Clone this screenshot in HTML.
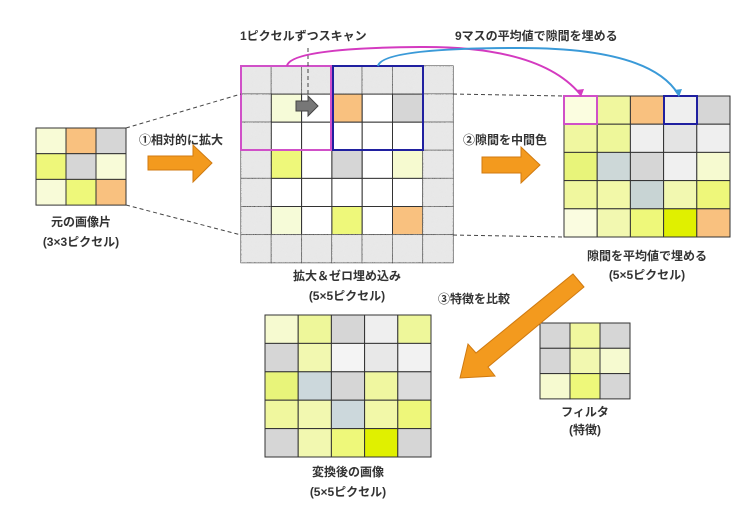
<!DOCTYPE html>
<html><head><meta charset="utf-8"><style>
body{margin:0;background:#fff;width:750px;height:519px;overflow:hidden}
svg text{font-family:"Liberation Sans","Noto Sans CJK JP",sans-serif;font-size:12px;font-weight:bold;fill:#333}
</style></head><body>
<svg id="s" width="750" height="519" xmlns="http://www.w3.org/2000/svg">
<defs>
<filter id="n" x="0" y="0" width="100%" height="100%"><feTurbulence baseFrequency="0.9" numOctaves="2" result="t"/><feColorMatrix type="matrix" values="0 0 0 0 0.8  0 0 0 0 0.8  0 0 0 0 0.8  0 0 0 -1.2 1.1"/><feComposite in2="SourceGraphic" operator="in"/></filter>
</defs>
<g id="g"></g>
<g stroke="#444" stroke-dasharray="4,3" fill="none" stroke-width="1">
<line x1="126" y1="128" x2="241" y2="94"/>
<line x1="126" y1="205" x2="241" y2="235"/>
<line x1="453" y1="94" x2="564" y2="96"/>
<line x1="453" y1="235" x2="564" y2="237"/>
<line x1="308" y1="48" x2="308" y2="102"/>
</g>
<path d="M287 66 Q290 48 420 47 Q540 46 580 94" stroke="#d43ac0" stroke-width="2" fill="none"/>
<polygon points="576,90 584,89 581,97" fill="#d43ac0"/>
<path d="M378 66 Q382 48 520 48 Q650 48 678 94" stroke="#3a9ad8" stroke-width="2" fill="none"/>
<polygon points="674,90 682,89 679,97" fill="#3a9ad8"/>
<polygon points="148,156 193,156 193,145 212,163 193,182 193,170 148,170" fill="#f39a1e" stroke="#d07a10"/>
<polygon points="482,157 521,157 521,147 540,165 521,183 521,173 482,173" fill="#f39a1e" stroke="#d07a10"/>
<polygon points="573,274 584,287 488,367 495,376 460,378 468,344 476,353" fill="#f39a1e" stroke="#d07a10"/>
<polygon points="296,101 308,101 308,96 318,106 308,116 308,111 296,111" fill="#777" stroke="#444"/>
<text x="240" y="40">1ピクセルずつスキャン</text>
<text x="455" y="40">9マスの平均値で隙間を埋める</text>
<text x="139" y="144">①相対的に拡大</text>
<text x="463" y="144">②隙間を中間色</text>
<text x="81" y="226" text-anchor="middle">元の画像片</text>
<text x="81" y="246" text-anchor="middle">(3×3ピクセル)</text>
<text x="347" y="280" text-anchor="middle">拡大＆ゼロ埋め込み</text>
<text x="347" y="300" text-anchor="middle">(5×5ピクセル)</text>
<text x="647" y="260" text-anchor="middle">隙間を平均値で埋める</text>
<text x="647" y="279" text-anchor="middle">(5×5ピクセル)</text>
<text x="438" y="303">③特徴を比較</text>
<text x="585" y="416" text-anchor="middle">フィルタ</text>
<text x="585" y="434" text-anchor="middle">(特徴)</text>
<text x="348" y="476" text-anchor="middle">変換後の画像</text>
<text x="348" y="496" text-anchor="middle">(5×5ピクセル)</text>
</svg>
<script>
var g=document.getElementById('g'),NS='http://www.w3.org/2000/svg';
function r(x,y,w,h,f,s,sw,filt){var e=document.createElementNS(NS,'rect');e.setAttribute('x',x);e.setAttribute('y',y);e.setAttribute('width',w);e.setAttribute('height',h);e.setAttribute('fill',f);e.setAttribute('stroke',s||'#333');e.setAttribute('stroke-width',sw||1);if(filt)e.setAttribute('filter',filt);g.appendChild(e);}
function grid(x0,y0,cw,ch,cols){for(var i=0;i<cols.length;i++)for(var j=0;j<cols[i].length;j++)r(x0+j*cw,y0+i*ch,cw,ch,cols[i][j],'#333',1);}
var G='#d6d6d6',O='#f9c17f';
grid(36,128,30,25.7,[['#f8fbd6',O,G],['#eef77a',G,'#f8fbd8'],['#f8fbd8','#eef87a',O]]);
var W='#fff',N='N';
var m=[[N,N,N,N,N,N,N],[N,'#f6fbd8',W,O,W,G,N],[N,W,W,W,W,W,N],[N,'#eef87a',W,G,W,'#f6fad0',N],[N,W,W,W,W,W,N],[N,'#f6fbd8',W,'#eef87a',W,O,N],[N,N,N,N,N,N,N]];
for(var i=0;i<7;i++)for(var j=0;j<7;j++){var x=241+j*30.3,y=66+i*28.1;if(m[i][j]==N){r(x,y,30.3,28.1,'#ebebeb','#333',1);r(x,y,30.3,28.1,'#ebebeb','none',0,'url(#n)');}else r(x,y,30.3,28.1,m[i][j],'#333',1);}
r(241,66,90,84,'none','#d050c8',2);r(333,66,90,84,'none','#2020a0',2);
grid(564,96,33.2,28.2,[['#fbfde0','#f0f79e',O,'#efefef',G],['#f0f7a0','#eef79a','#efefef','#e4e4e4','#efefef'],['#e8f47a','#cdd8d8',G,'#f0f0f0','#f6fad0'],['#f0f79e','#f2f8a8','#c8d4d4','#f2f8b0','#eef77a'],['#fafce0','#f2f8b0','#eef87a','#e0f000',O]]);
r(564,96,33,28,'none','#d050c8',2);r(664,96,33,28,'none','#2020a0',2);
grid(265,315,33.2,28.4,[['#f6fad0','#eef79a',G,'#efefef','#eef79a'],[G,'#f2f8b0','#f4f4f4','#e8e8e8','#f2f2f2'],['#e8f47a','#ccd8dc',G,'#f0f7a0','#dcdcdc'],['#f0f79e','#f2f8b0','#ccd8dc','#f2f8a8','#eef77a'],[G,'#f2f8b0','#eef87a','#e0f000',G]]);
grid(540,323,30,25.3,[[G,'#f0f79e',G],[G,'#f2f8b0','#f6fad0'],['#f6fad0','#eef87a',G]]);
</script>
</body></html>
